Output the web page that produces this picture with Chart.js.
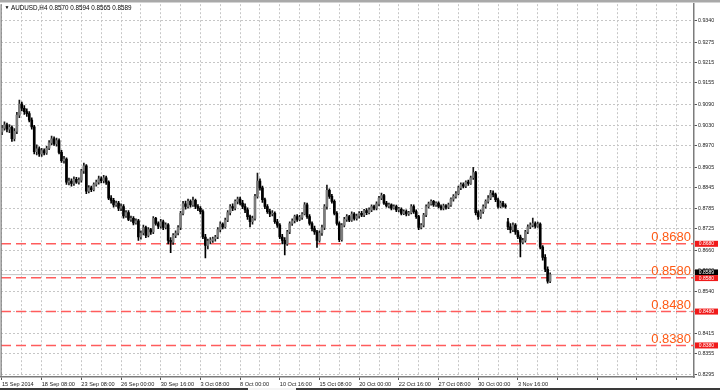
<!DOCTYPE html>
<html>
<head>
<meta charset="utf-8">
<style>
  html,body{margin:0;padding:0;background:#fff;}
  #wrap{width:720px;height:390px;position:relative;}
  canvas{display:block;}
</style>
</head>
<body>
<div id="wrap"><canvas id="chart" width="720" height="390"></canvas></div>
<script src="https://cdn.jsdelivr.net/npm/chart.js@4.4.0/dist/chart.umd.min.js"></script>
<script>
// AUDUSD H4 candles, 15 Sep - 5 Nov 2014
const chartTitle='AUDUSD,H4 0.8570 0.8594 0.8565 0.8589';
const dateLabels=['15 Sep 2014','18 Sep 08:00','23 Sep 08:00','26 Sep 00:00','30 Sep 16:00','3 Oct 08:00','8 Oct 00:00','10 Oct 16:00','15 Oct 08:00','20 Oct 00:00','22 Oct 16:00','27 Oct 08:00','30 Oct 00:00','3 Nov 16:00'];
const priceTicks=[0.9340,0.9275,0.9215,0.9155,0.9090,0.9030,0.8970,0.8905,0.8845,0.8785,0.8725,0.8660,0.8600,0.8540,0.8480,0.8415,0.8355,0.8295];
const levels=[0.8680,0.8580,0.8480,0.8380];

const opens=[
.9010,.9021,.9031,.9018,.9024,.8990,.9012,.9060,.9092,.9080,.9070,.9064,.9045,.9025,.8952,.8960,
.8945,.8955,.8948,.8962,.8978,.8990,.8975,.8985,.8950,.8925,.8930,.8862,.8865,.8858,.8870,.8862,
.8868,.8895,.8910,.8835,.8845,.8840,.8855,.8862,.8872,.8866,.8875,.8862,.8815,.8808,.8795,.8800,
.8785,.8790,.8762,.8772,.8752,.8755,.8742,.8748,.8700,.8712,.8728,.8705,.8722,.8715,.8755,.8740,
.8732,.8745,.8728,.8736,.8690,.8685,.8705,.8712,.8728,.8770,.8798,.8790,.8805,.8795,.8808,.8790,
.8785,.8775,.8700,.8675,.8688,.8690,.8695,.8700,.8722,.8738,.8730,.8750,.8772,.8790,.8785,.8805,
.8812,.8800,.8790,.8780,.8760,.8745,.8755,.8820,.8865,.8845,.8810,.8790,.8775,.8768,.8770,.8745,
.8735,.8700,.8690,.8680,.8715,.8740,.8748,.8760,.8752,.8758,.8768,.8795,.8760,.8740,.8725,.8715,
.8690,.8712,.8728,.8790,.8838,.8820,.8805,.8770,.8740,.8692,.8735,.8752,.8760,.8750,.8768,.8755,
.8762,.8770,.8765,.8778,.8772,.8780,.8790,.8785,.8798,.8815,.8822,.8800,.8792,.8795,.8785,.8790,
.8780,.8782,.8770,.8775,.8768,.8772,.8790,.8775,.8760,.8728,.8735,.8765,.8790,.8798,.8805,.8795,
.8800,.8790,.8785,.8792,.8788,.8795,.8812,.8820,.8828,.8845,.8855,.8850,.8862,.8858,.8875,.8890,
.8772,.8760,.8775,.8790,.8805,.8815,.8830,.8825,.8810,.8790,.8800,.8792,.8745,.8730,.8722,.8735,
.8715,.8700,.8685,.8690,.8715,.8730,.8735,.8740,.8732,.8738,.8670,.8640,.8605,.8570];
const highs=[
.9030,.9040,.9036,.9032,.9028,.9020,.9068,.9104,.9098,.9088,.9078,.9070,.9052,.9030,.8972,.8966,
.8962,.8960,.8968,.8985,.8998,.8996,.8992,.8990,.8956,.8938,.8934,.8874,.8872,.8878,.8876,.8875,
.8900,.8918,.8914,.8852,.8850,.8860,.8868,.8880,.8878,.8882,.8880,.8866,.8822,.8814,.8806,.8805,
.8798,.8796,.8778,.8778,.8762,.8760,.8754,.8752,.8718,.8735,.8732,.8728,.8726,.8760,.8758,.8745,
.8752,.8750,.8742,.8740,.8698,.8710,.8718,.8734,.8776,.8805,.8806,.8812,.8810,.8818,.8812,.8796,
.8790,.8780,.8708,.8694,.8698,.8700,.8705,.8728,.8745,.8742,.8756,.8778,.8796,.8798,.8810,.8818,
.8818,.8808,.8798,.8786,.8765,.8762,.8826,.8889,.8872,.8850,.8815,.8796,.8782,.8778,.8774,.8752,
.8740,.8708,.8698,.8720,.8745,.8754,.8765,.8766,.8764,.8772,.8802,.8800,.8766,.8745,.8732,.8720,
.8718,.8735,.8796,.8853,.8842,.8826,.8810,.8775,.8745,.8740,.8758,.8766,.8764,.8774,.8772,.8768,
.8775,.8776,.8782,.8784,.8786,.8795,.8794,.8804,.8820,.8830,.8826,.8805,.8800,.8798,.8795,.8794,
.8788,.8786,.8780,.8780,.8776,.8796,.8795,.8780,.8764,.8740,.8770,.8795,.8803,.8810,.8808,.8804,
.8804,.8795,.8797,.8796,.8800,.8816,.8825,.8834,.8850,.8860,.8860,.8866,.8868,.8880,.8906,.8894,
.8778,.8780,.8795,.8810,.8822,.8838,.8836,.8830,.8815,.8806,.8805,.8798,.8755,.8740,.8742,.8740,
.8720,.8706,.8696,.8720,.8736,.8742,.8756,.8745,.8744,.8742,.8675,.8648,.8612,.8594];
const lows=[
.9002,.9015,.9010,.9008,.8982,.8984,.9005,.9052,.9072,.9062,.9056,.9040,.9018,.8945,.8942,.8938,
.8938,.8942,.8944,.8958,.8972,.8970,.8968,.8945,.8920,.8918,.8855,.8854,.8850,.8852,.8858,.8856,
.8862,.8888,.8828,.8830,.8834,.8836,.8850,.8856,.8860,.8860,.8855,.8810,.8800,.8788,.8790,.8778,
.8778,.8756,.8758,.8748,.8746,.8736,.8738,.8690,.8694,.8706,.8698,.8700,.8708,.8710,.8735,.8725,
.8726,.8722,.8724,.8680,.8654,.8678,.8698,.8706,.8722,.8765,.8782,.8785,.8788,.8790,.8784,.8778,
.8768,.8695,.8638,.8665,.8680,.8684,.8688,.8695,.8715,.8724,.8726,.8745,.8765,.8778,.8780,.8798,
.8795,.8784,.8772,.8752,.8730,.8738,.8750,.8815,.8838,.8802,.8784,.8770,.8760,.8762,.8740,.8728,
.8695,.8680,.8647,.8675,.8710,.8734,.8742,.8746,.8748,.8752,.8765,.8755,.8735,.8718,.8708,.8669,
.8685,.8705,.8722,.8782,.8814,.8800,.8765,.8735,.8686,.8688,.8730,.8746,.8745,.8746,.8750,.8750,
.8756,.8760,.8760,.8766,.8768,.8775,.8780,.8780,.8792,.8810,.8796,.8788,.8786,.8780,.8782,.8775,
.8774,.8765,.8766,.8762,.8764,.8768,.8770,.8755,.8722,.8724,.8730,.8760,.8785,.8794,.8790,.8790,
.8786,.8780,.8780,.8782,.8784,.8790,.8806,.8815,.8824,.8840,.8845,.8846,.8852,.8855,.8870,.8765,
.8752,.8755,.8770,.8785,.8800,.8810,.8818,.8804,.8785,.8786,.8788,.8785,.8722,.8712,.8716,.8708,
.8695,.8641,.8680,.8685,.8710,.8725,.8730,.8726,.8728,.8665,.8632,.8598,.8564,.8565];
const closes=[
.9021,.9031,.9018,.9024,.8990,.9012,.9060,.9092,.9080,.9070,.9064,.9045,.9025,.8952,.8960,.8945,
.8955,.8948,.8962,.8978,.8990,.8975,.8985,.8950,.8925,.8930,.8862,.8865,.8858,.8870,.8862,.8868,
.8895,.8910,.8835,.8845,.8840,.8855,.8862,.8872,.8866,.8875,.8862,.8815,.8808,.8795,.8800,.8785,
.8790,.8762,.8772,.8752,.8755,.8742,.8748,.8700,.8712,.8728,.8705,.8722,.8715,.8755,.8740,.8732,
.8745,.8728,.8736,.8690,.8685,.8705,.8712,.8728,.8770,.8798,.8790,.8805,.8795,.8808,.8790,.8785,
.8775,.8700,.8675,.8688,.8690,.8695,.8700,.8722,.8738,.8730,.8750,.8772,.8790,.8785,.8805,.8812,
.8800,.8790,.8780,.8760,.8745,.8755,.8820,.8865,.8845,.8810,.8790,.8775,.8768,.8770,.8745,.8735,
.8700,.8690,.8680,.8715,.8740,.8748,.8760,.8752,.8758,.8768,.8795,.8760,.8740,.8725,.8715,.8690,
.8712,.8728,.8790,.8838,.8820,.8805,.8770,.8740,.8692,.8735,.8752,.8760,.8750,.8768,.8755,.8762,
.8770,.8765,.8778,.8772,.8780,.8790,.8785,.8798,.8815,.8822,.8800,.8792,.8795,.8785,.8790,.8780,
.8782,.8770,.8775,.8768,.8772,.8790,.8775,.8760,.8728,.8735,.8765,.8790,.8798,.8805,.8795,.8800,
.8790,.8785,.8792,.8788,.8795,.8812,.8820,.8828,.8845,.8855,.8850,.8862,.8858,.8875,.8890,.8772,
.8760,.8775,.8790,.8805,.8815,.8830,.8825,.8810,.8790,.8800,.8792,.8790,.8730,.8722,.8735,.8715,
.8700,.8685,.8690,.8715,.8730,.8735,.8740,.8732,.8738,.8670,.8640,.8605,.8570,.8589];

const lastPrice=closes[closes.length-1];
const barsPerLabel=16, barsPerGrid=8;
const xMin=-0.4, xMax=279, yMin=0.82869, yMax=0.93872;
const FONT='"Liberation Sans", Arial, sans-serif';
const BULL='#7c7c7c', BEAR='#000000';

const xGrid=[];for(let v=0;v<=xMax;v+=barsPerGrid)xGrid.push(v);
const isBull=i=>closes[i]>=opens[i];

const wickData=closes.map((_,i)=>({x:i,y:[lows[i],highs[i]]}));
const bodyData=closes.map((_,i)=>({x:i,y:[opens[i],closes[i]]}));
const levelSets=levels.map(level=>({
  type:'line',data:[{x:xMin,y:level},{x:xMax,y:level}],
  borderColor:'#ff5c5c',borderWidth:1.4,borderDash:[10,5],pointRadius:0,order:3
}));

const overlay={
  id:'overlay',
  afterDraw(chart){
    const {ctx,chartArea:area,scales:{y}}=chart;
    ctx.save();
    // window frame
    ctx.fillStyle='#a9a9a9';ctx.fillRect(0,0,720,2.5);
    ctx.fillStyle='#7a7a7a';ctx.fillRect(0.5,area.top,1.2,area.bottom-area.top);
    ctx.fillStyle='#3a3a3a';ctx.fillRect(0,388,720,2);
    ctx.fillStyle='#f4f4f4';ctx.fillRect(248,388,48,2);
    // symbol line
    ctx.fillStyle='#000';ctx.textBaseline='middle';ctx.textAlign='left';
    ctx.font='5px '+FONT;ctx.fillText('▼',4.5,7.8);
    ctx.font='6.3px '+FONT;ctx.fillText(chartTitle,11,7.8);
    // level captions and axis price tags
    levels.forEach(level=>{
      const py=y.getPixelForValue(level);
      ctx.font='13px '+FONT;ctx.fillStyle='#ff5a14';ctx.textAlign='right';ctx.textBaseline='alphabetic';
      ctx.fillText(level.toFixed(4),691,py-2.5);
      const top=level===0.8580?py-2.6:py-3;
      ctx.fillStyle='#f01a1a';ctx.fillRect(695,top,23,6);
      ctx.fillStyle='#fff';ctx.font='5px '+FONT;ctx.textAlign='center';ctx.textBaseline='middle';
      ctx.fillText(level.toFixed(4),706.5,top+3.2);
    });
    const pb=y.getPixelForValue(lastPrice);
    ctx.fillStyle='#000';ctx.fillRect(695,pb-5.2,23,5.6);
    ctx.fillStyle='#fff';ctx.font='5px '+FONT;ctx.textAlign='center';ctx.textBaseline='middle';
    ctx.fillText(lastPrice.toFixed(4),706.5,pb-2.3);
    ctx.restore();
  }
};

new Chart(document.getElementById('chart').getContext('2d'),{
  type:'bar',
  data:{datasets:[
    {type:'line',data:[{x:xMin,y:lastPrice},{x:xMax,y:lastPrice}],borderColor:'#c4c4c4',borderWidth:1,pointRadius:0,order:4},
    ...levelSets,
    {label:'wick',data:wickData,barThickness:1,grouped:false,borderWidth:0,borderSkipped:false,
     backgroundColor:ctx=>isBull(ctx.dataIndex)?'#1a1a1a':BEAR,order:2},
    {label:'body',data:bodyData,barThickness:2,grouped:false,borderWidth:0,borderSkipped:false,minBarLength:1,
     backgroundColor:ctx=>isBull(ctx.dataIndex)?BULL:BEAR,order:1}
  ]},
  options:{
    responsive:false,animation:false,devicePixelRatio:1,
    layout:{padding:{left:1,top:4,right:0,bottom:0}},
    plugins:{legend:{display:false},tooltip:{enabled:false},title:{display:false}},
    scales:{
      x:{type:'linear',min:xMin,max:xMax,offset:false,
        afterBuildTicks:axis=>{axis.ticks=xGrid.map(value=>({value}));},
        afterFit:axis=>{axis.height=13;},
        ticks:{autoSkip:false,maxRotation:0,minRotation:0,align:'start',padding:1,color:'#222',
          font:{size:5.6,family:FONT},
          callback:value=>value%barsPerLabel===0?(dateLabels[value/barsPerLabel]||''):''},
        grid:{color:'#c6c6c6',lineWidth:1,tickLength:3,offset:false,
          tickColor:ctx=>ctx.tick&&ctx.tick.value%barsPerLabel===0?'#555':'rgba(0,0,0,0)'},
        border:{display:true,color:'#7c7c7c',width:1.5,dash:[2,2]}
      },
      y:{type:'linear',position:'right',min:yMin,max:yMax,
        afterBuildTicks:axis=>{axis.ticks=priceTicks.map(value=>({value}));},
        afterFit:axis=>{axis.width=26;},
        ticks:{padding:1,color:'#222',font:{size:5.3,family:FONT},callback:value=>Number(value).toFixed(4)},
        grid:{color:'#c6c6c6',lineWidth:1,tickLength:3,tickColor:'#555'},
        border:{display:true,color:'#7c7c7c',width:1.5,dash:[2,2]}
      }
    }
  },
  plugins:[overlay]
});
</script>
</body>
</html>
